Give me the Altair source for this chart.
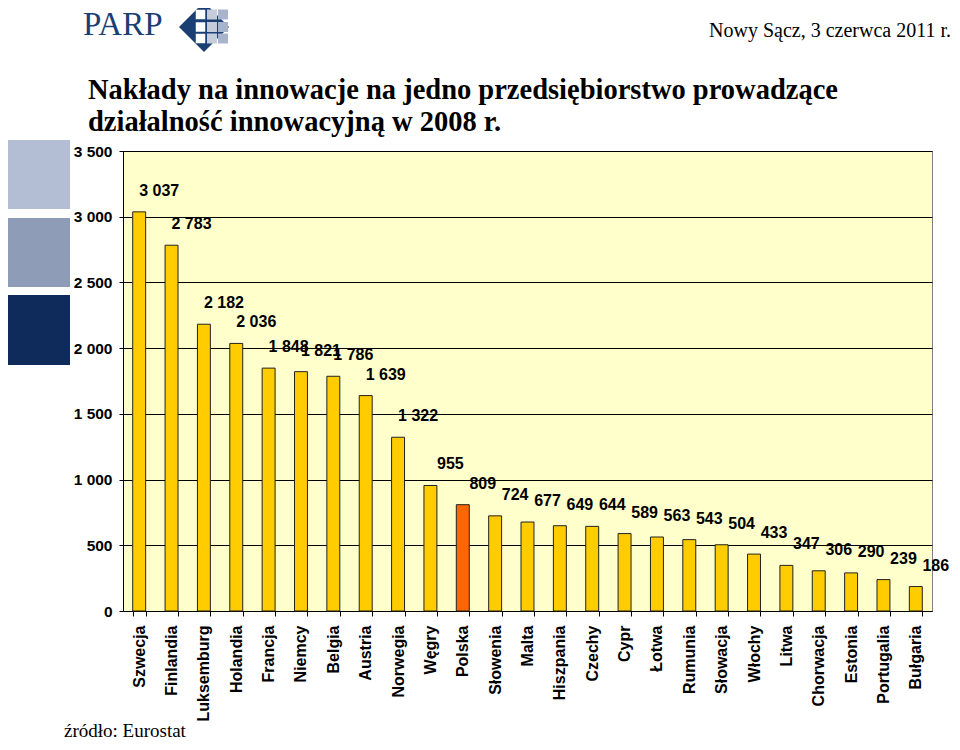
import altair as alt
import pandas as pd

countries = ["Szwecja", "Finlandia", "Luksemburg", "Holandia", "Francja", "Niemcy", "Belgia",
             "Austria", "Norwegia", "Węgry", "Polska", "Słowenia", "Malta", "Hiszpania",
             "Czechy", "Cypr", "Łotwa", "Rumunia", "Słowacja", "Włochy", "Litwa",
             "Chorwacja", "Estonia", "Portugalia", "Bułgaria"]
values = [3037, 2783, 2182, 2036, 1848, 1821, 1786, 1639, 1322, 955, 809, 724, 677, 649,
          644, 589, 563, 543, 504, 433, 347, 306, 290, 239, 186]
highlight = "Polska"
y_ticks = [0, 500, 1000, 1500, 2000, 2500, 3000, 3500]

title_lines = ["Nakłady na innowacje na jedno przedsiębiorstwo prowadzące",
               "działalność innowacyjną w 2008 r."]
date_text = "Nowy Sącz, 3 czerwca 2011 r."
source_text = "źródło: Eurostat"
logo_text = "PARP"

df = pd.DataFrame({"country": countries, "value": values})

SANS = "Liberation Sans"
SERIF = "Liberation Serif"
W, H = 809, 460
OX, OY = 123, 151  # page position of plot origin

x_enc = alt.X("country:N", sort=None,
              scale=alt.Scale(paddingInner=0.6, paddingOuter=0.3),
              axis=alt.Axis(labelAngle=270, labelAlign="right", labelBaseline="middle",
                            tickBand="extent", tickSize=5, tickColor="black",
                            domainColor="black", labelFontSize=16, labelFont=SANS,
                            labelFontWeight="bold", labelColor="black", labelPadding=9,
                            title=None, grid=False))
y_enc = alt.Y("value:Q", scale=alt.Scale(domain=[0, 3500], nice=False),
              axis=alt.Axis(values=y_ticks,
                            labelExpr="replace(format(datum.value, ','), ',', ' ')",
                            grid=True, gridColor="black", gridWidth=1, tickColor="black",
                            tickSize=4, domainColor="black", labelFont=SANS,
                            labelFontWeight="bold", labelFontSize=15.5, labelColor="black",
                            labelPadding=7, title=None))

base = alt.Chart(df)
bars = base.mark_bar(stroke="#222222", strokeWidth=1).encode(
    x=x_enc, y=y_enc,
    color=alt.condition(alt.datum.country == highlight, alt.value("#FF6600"), alt.value("#FFCC00")),
)
labels = base.transform_calculate(
    lbl="replace(format(datum.value, ','), ',', ' ')"
).mark_text(dx=20, dy=-21, baseline="middle", align="center", fontSize=16, font=SANS,
            fontWeight="bold", color="black").encode(x=x_enc, y=y_enc, text="lbl:N")


def txt(s, px, py, size, font, align="left", weight="normal", color="black"):
    return alt.Chart(pd.DataFrame({"t": [s]})).mark_text(
        align=align, baseline="alphabetic", fontSize=size, font=font,
        fontWeight=weight, color=color
    ).encode(x=alt.value(px - OX), y=alt.value(py - OY), text="t:N")


def rect(px1, px2, py1, py2, color):
    return alt.Chart(pd.DataFrame({"a": [0]})).mark_rect(color=color).encode(
        x=alt.value(px1 - OX), x2=alt.value(px2 - OX),
        y=alt.value(py1 - OY), y2=alt.value(py2 - OY))


def sym(px, py, size, shape, color):
    return alt.Chart(pd.DataFrame({"a": [0]})).mark_point(
        shape=shape, filled=True, size=size, color=color, opacity=1, strokeWidth=0
    ).encode(x=alt.value(px - OX), y=alt.value(py - OY))


deco = [
    rect(0, 70, 140, 209, "#B3BDD3"),
    rect(0, 70, 218, 287, "#8E9CB8"),
    rect(0, 70, 295, 365, "#0E2B5C"),
    txt(logo_text, 83, 35, 33, SERIF, color="#1B3F73"),
    sym(204, 27, 2500, "diamond", "#1B3F73"),
]
for yy in [14.5, 27, 38.5]:
    deco.append(sym(200.5, yy, 90, "square", "white"))
    deco.append(sym(212, yy, 100, "square", "#C5CCDC"))
    deco.append(sym(223, yy, 100, "square", "#A8B4CC"))
deco += [
    txt(title_lines[0], 88, 99, 28.5, SERIF, weight="bold"),
    txt(title_lines[1], 88, 131, 28.5, SERIF, weight="bold"),
    txt(date_text, 951, 37, 20, SERIF, align="right"),
    txt(source_text, 64, 737, 19, SERIF),
]

chart = alt.layer(bars, labels, *deco).properties(
    width=W, height=H,
    autosize=alt.AutoSizeParams(type="none"),
    padding={"left": 115, "top": 143, "right": 20, "bottom": 131},
).configure_view(fill="#FFFFCC", stroke="#808080", strokeWidth=1)

chart.save("out.html", embed_options={"renderer": "svg", "actions": False})
